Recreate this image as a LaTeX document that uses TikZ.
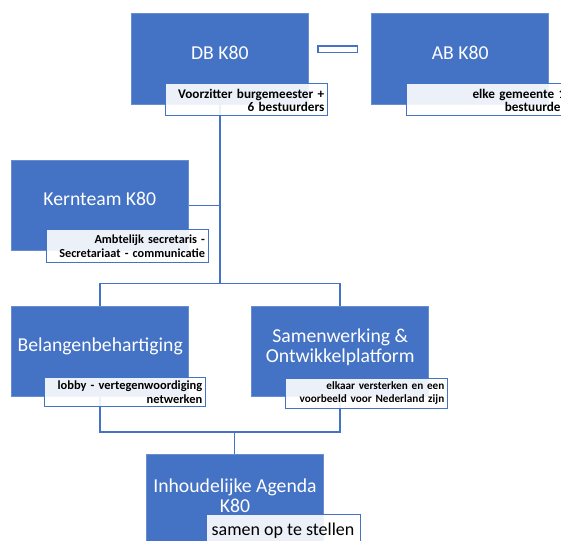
\documentclass[tikz,border=0pt]{standalone}
\usepackage{fontspec}
\setmainfont{Carlito}
\definecolor{k80blue}{HTML}{4472C4}
\tikzset{
  mainbox/.style={rectangle, fill=k80blue, draw=k80blue!80!white, line width=0.6pt, inner sep=0pt},
  maintext/.style={text=white, font=\fontsize{19.7}{20}\selectfont, align=center, inner sep=0pt},
  subbox/.style={rectangle, fill=white, fill opacity=0.9, text opacity=1, draw=k80blue, line width=1pt,
    text=black, font=\bfseries\fontsize{12.6}{13}\selectfont, align=right, inner sep=0pt},
  orgline/.style={draw=k80blue, line width=1.6pt},
  linkbar/.style={draw=k80blue, line width=1.2pt, fill=white}
}
\begin{document}
\begin{tikzpicture}[x=1pt, y=-1pt]
  \useasboundingbox (0,0) rectangle (561,540);
  \clip (0,0) rectangle (561,540);
  % blue boxes
  \node[mainbox, minimum width=177pt, minimum height=91pt] (db) at (219.75,58.5) {};
  \node[mainbox, minimum width=177pt, minimum height=91pt] (ab) at (460.2,58.5) {};
  \node[mainbox, minimum width=177.7pt, minimum height=90.7pt] (kern) at (99.8,205.3) {};
  \node[mainbox, minimum width=177pt, minimum height=90pt] (belang) at (100.2,351.7) {};
  \node[mainbox, minimum width=177pt, minimum height=90pt] (samen) at (340.2,351.7) {};
  \node[mainbox, minimum width=176.6pt, minimum height=90pt] (agenda) at (235,499.3) {};
  % titles
  \node[maintext] (dbt) at (219.75,53) {DB K80};
  \node[maintext] (abt) at (460.2,53) {AB K80};
  \node[maintext] (kernt) at (99.8,199) {Kernteam K80};
  \node[maintext] (belangt) at (100.2,346) {Belangenbehartiging};
  \node[maintext] (sament) at (340.2,347) {Samenwerking \&\\Ontwikkelplatform};
  \node[maintext] (agendat) at (235,495.5) {Inhoudelijke Agenda\\K80};
  % connectors
  \begin{scope}[orgline]
    \coordinate (trunk) at (220,283.3);
    \coordinate (bottombar) at (234.3,431.7);
    \draw (db.south -| trunk) -- (trunk);
    \draw (kern.east) -- (kern.east -| trunk);
    \draw (belang.north) |- (trunk) -| (samen.north);
    \draw (belang.south) |- (bottombar) -| (samen.south);
    \draw (bottombar) -- (agenda.north -| bottombar);
  \end{scope}
  \draw[linkbar] ([xshift=9.5pt,yshift=12.5pt]db.east) rectangle ([xshift=-14pt,yshift=6.2pt]ab.west);
  % sub boxes
  \node[subbox, minimum width=162pt, minimum height=32pt, text width=155pt, font=\bfseries\fontsize{13.2}{13}\selectfont] (dbsub) at (246.8,100)
    {Voorzitter burgemeester +\\6 bestuurders};
  \node[subbox, minimum width=162pt, minimum height=32pt, text width=155pt, font=\bfseries\fontsize{13.2}{13}\selectfont] (absub) at (487.8,100)
    {elke gemeente 1\\bestuurder};
  \node[subbox, minimum width=161.6pt, minimum height=32.7pt, text width=155pt, font=\bfseries\fontsize{12.3}{14.3}\selectfont] (kernsub) at (127.5,246.3)
    {Ambtelijk secretaris -\\Secretariaat - communicatie};
  \node[subbox, minimum width=161pt, minimum height=29pt, text width=155pt, font=\bfseries\fontsize{12.45}{13.4}\selectfont] (belangsub) at (124.8,392.2)
    {lobby - vertegenwoordiging\\netwerken};
  \node[subbox, minimum width=161.7pt, minimum height=30.3pt, text width=155pt, font=\bfseries\fontsize{11.2}{12.6}\selectfont] (samensub) at (366.8,393.2)
    {elkaar versterken en een\\voorbeeld voor Nederland zijn};
  \node[subbox, minimum width=154pt, minimum height=32pt, align=center, font=\fontsize{18}{20}\selectfont] (agendasub) at (283,530.3)
    {samen op te stellen};
\end{tikzpicture}
\end{document}
